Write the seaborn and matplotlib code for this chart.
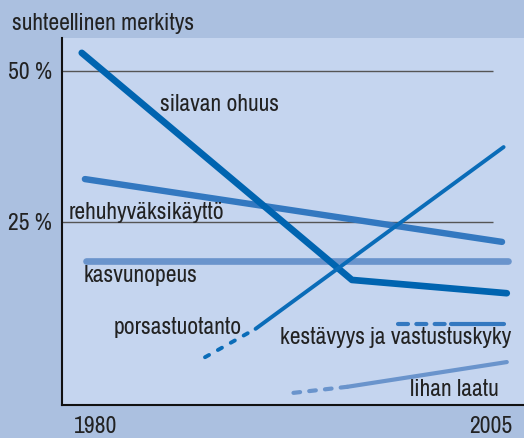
import matplotlib
matplotlib.use("Agg")
import matplotlib.pyplot as plt
import seaborn as sns
import pandas as pd

FONT = ['Archivo Narrow', 'Liberation Sans Narrow', 'DejaVu Sans']

# ---- data ----
silava_years = [1979.1, 1996.2, 2006.0]
silava_vals = [53.0, 15.4, 13.2]

rehu_years = [1979.3, 2005.7]
rehu_vals = [32.1, 21.7]

kasvu_years = [1979.4, 2006.1]
kasvu_vals = [18.5, 18.5]

porsas_dash_years = [1986.9, 1990.1]
porsas_dash_vals = [2.6, 7.3]
porsas_years = [1990.1, 2005.8]
porsas_vals = [7.3, 37.4]

kest_dash_years = [1999.1, 2002.5]
kest_dash_vals = [8.1, 8.1]
kest_years = [2002.5, 2005.8]
kest_vals = [8.1, 8.1]

liha_dash_years = [1992.5, 1995.9]
liha_dash_vals = [-3.3, -2.3]
liha_years = [1995.9, 2006.0]
liha_vals = [-2.3, 1.8]

xtick_vals = [1980, 2005]
xtick_labels = ["1980", "2005"]
ytick_vals = [25, 50]
ytick_labels = ["25 %", "50 %"]

# ---- style ----
outer_bg = "#abc0e0"
plot_bg = "#c5d5ef"
c_dark = "#0064b0"
c_mid = "#3378c0"
c_light = "#6a94cc"
c_porsas = "#0a6cb8"
txt_c = "#222222"
FS = 17

W, H = 524, 438
fig = plt.figure(figsize=(W / 100, H / 100), dpi=100, facecolor=outer_bg)
ax = fig.add_axes([62 / W, (H - 405) / H, (W - 62) / W, (405 - 38) / H])
ax.set_facecolor(plot_bg)

x0, x1 = 1977.85, 2007.09
ax.set_xlim(x0, x1)
ax.set_ylim(-5.31, 55.46)

# gridlines
ax.hlines(ytick_vals, x0, 2005.13, color="#555555", lw=1.0, zorder=1)


def draw(xs, ys, color, lw, dashes=None):
    df = pd.DataFrame({"x": xs, "y": ys})
    kw = dict(color=color, lw=lw, solid_capstyle="round", zorder=3)
    if dashes is not None:
        kw.update(linestyle=(0, dashes), dash_capstyle="round")
    sns.lineplot(data=df, x="x", y="y", ax=ax, sort=False, estimator=None, **kw)


draw(kasvu_years, kasvu_vals, c_light, 4.8)
draw(rehu_years, rehu_vals, c_mid, 4.6)
draw(silava_years, silava_vals, c_dark, 4.8)
draw(porsas_dash_years, porsas_dash_vals, c_porsas, 2.8, dashes=(1.2, 2.6))
draw(porsas_years, porsas_vals, c_porsas, 2.8)
draw(kest_dash_years, kest_dash_vals, c_mid, 3.0, dashes=(2.4, 2.0))
draw(kest_years, kest_vals, c_mid, 3.0)
draw(liha_dash_years, liha_dash_vals, c_light, 3.0, dashes=(1.6, 2.2))
draw(liha_years, liha_vals, c_light, 3.0)

# axes styling
for s in ["top", "right"]:
    ax.spines[s].set_visible(False)
for s in ["left", "bottom"]:
    ax.spines[s].set_color("#111111")
    ax.spines[s].set_linewidth(1.5)

ax.set_xticks(xtick_vals)
ax.set_xticklabels(xtick_labels, fontfamily=FONT, fontsize=FS, color=txt_c)
ax.set_yticks(ytick_vals)
ax.set_yticklabels(ytick_labels, fontfamily=FONT, fontsize=FS, color=txt_c)
ax.tick_params(axis="x", length=0, pad=8)
ax.tick_params(axis="y", length=0, pad=7)
ax.set_xlabel("")
ax.set_ylabel("")

fig.text(12 / W, 1 - 24 / H, "suhteellinen merkitys", fontfamily=FONT,
         fontsize=FS, color=txt_c, ha="left", va="center")

lab = dict(fontfamily=FONT, fontsize=FS, color=txt_c, ha="left",
           va="center", zorder=4)
ax.text(1984.05, 44.4, "silavan ohuus", **lab)
ax.text(1978.29, 26.5, "rehuhyväksikäyttö", **lab)
ax.text(1979.24, 16.2, "kasvunopeus", **lab)
ax.text(1981.14, 7.6, "porsastuotanto", **lab)
ax.text(1991.65, 5.8, "kestävyys ja vastustuskyky", **lab)
ax.text(1999.87, -2.8, "lihan laatu", **lab)

fig.savefig("out.png", dpi=100, facecolor=outer_bg)
